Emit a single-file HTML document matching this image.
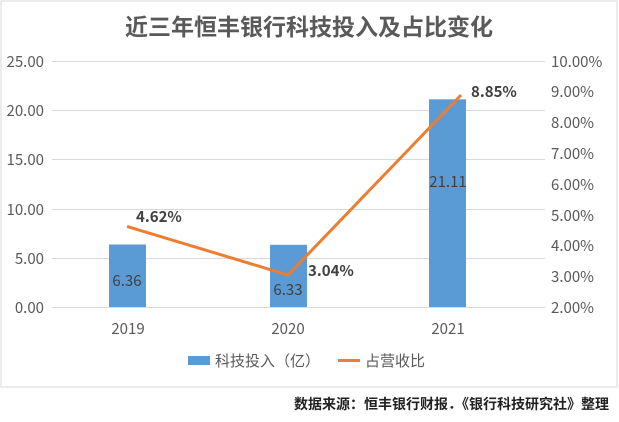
<!DOCTYPE html>
<html><head><meta charset="utf-8"><style>
body{margin:0;background:#fff;}
svg text{font-family:"Noto Sans CJK SC","Liberation Sans",sans-serif;}
</style></head><body>
<svg width="619" height="417" xmlns="http://www.w3.org/2000/svg">
<rect x="1" y="1" width="616" height="386" fill="#fff" stroke="#d9d9d9"/>
<text x="309" y="35" text-anchor="middle" font-size="23" font-weight="bold" fill="#595959">近三年恒丰银行科技投入及占比变化</text>
<g stroke="#d9d9d9" stroke-width="1">
<line x1="52" x2="545" y1="61.5" y2="61.5"/><line x1="52" x2="545" y1="110.5" y2="110.5"/>
<line x1="52" x2="545" y1="159.5" y2="159.5"/><line x1="52" x2="545" y1="209.5" y2="209.5"/>
<line x1="52" x2="545" y1="258.5" y2="258.5"/><line x1="52" x2="545" y1="307.5" y2="307.5"/>
</g>
<g font-size="15" fill="#595959" text-anchor="end">
<text x="44" y="67">25.00</text><text x="44" y="116">20.00</text><text x="44" y="165">15.00</text>
<text x="44" y="215">10.00</text><text x="44" y="264">5.00</text><text x="44" y="313">0.00</text>
</g>
<g font-size="15" fill="#595959">
<text x="551" y="67">10.00%</text><text x="551" y="97">9.00%</text><text x="551" y="128">8.00%</text>
<text x="551" y="159">7.00%</text><text x="551" y="190">6.00%</text><text x="551" y="221">5.00%</text>
<text x="551" y="251">4.00%</text><text x="551" y="282">3.00%</text><text x="551" y="313">2.00%</text>
</g>
<g fill="#5b9bd5">
<rect x="109" y="244.5" width="37" height="62.5"/>
<rect x="270" y="244.8" width="37" height="62.2"/>
<rect x="429" y="99.3" width="37" height="207.7"/>
</g>
<g font-size="15" fill="#404040" text-anchor="middle">
<text x="127" y="286">6.36</text><text x="288" y="295">6.33</text><text x="448" y="187">21.11</text>
</g>
<polyline points="127,226.4 288,275 461,95" fill="none" stroke="#ed7d31" stroke-width="3"/>
<g font-size="15" font-weight="bold" fill="#404040">
<text x="136" y="222">4.62%</text><text x="308" y="276">3.04%</text><text x="471" y="97">8.85%</text>
</g>
<g font-size="15" fill="#595959" text-anchor="middle">
<text x="128" y="334">2019</text><text x="288" y="334">2020</text><text x="448" y="334">2021</text>
</g>
<rect x="188" y="356" width="22" height="9" fill="#5b9bd5"/>
<text x="215" y="366" font-size="15" fill="#595959">科技投入（亿）</text>
<line x1="338" x2="360" y1="360.5" y2="360.5" stroke="#ed7d31" stroke-width="3"/>
<text x="365" y="366" font-size="15" fill="#595959">占营收比</text>
<text x="609" y="409" text-anchor="end" font-size="14" font-weight="bold" fill="#222">数据来源：恒丰银行财报．《银行科技研究社》整理</text>
</svg>
</body></html>
